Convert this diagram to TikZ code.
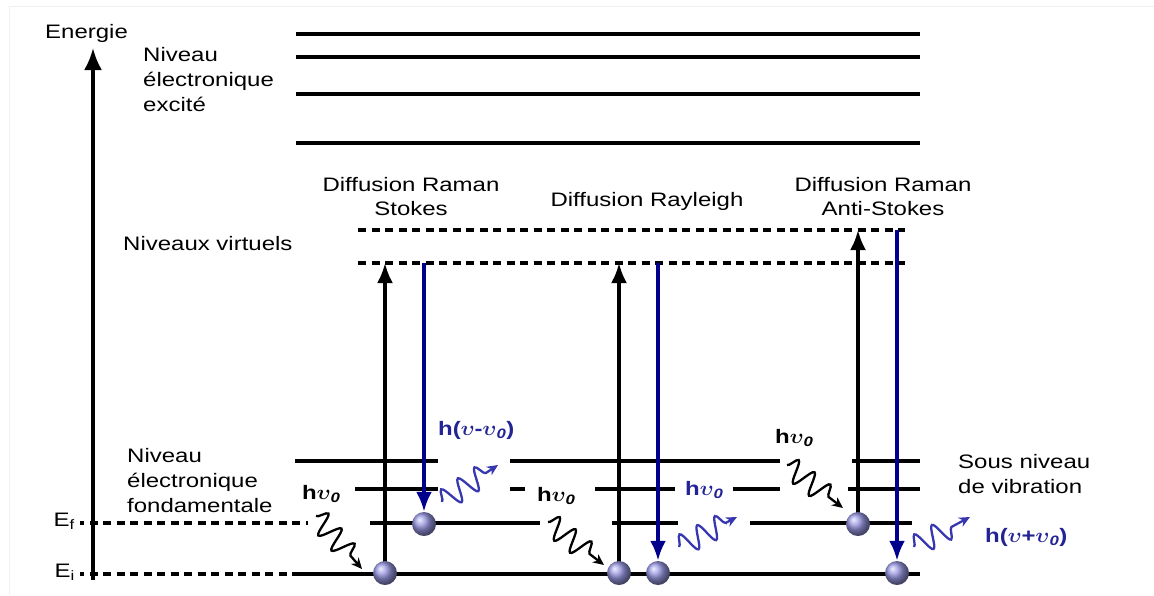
\documentclass[tikz,border=0pt]{standalone}
\usepackage{fontspec}
\setmainfont[FakeStretch=1.23]{Liberation Sans}
\usetikzlibrary{arrows.meta,decorations.pathmorphing}
\definecolor{navy}{RGB}{0,0,140}
\definecolor{bluetxt}{RGB}{35,35,150}
\definecolor{wavebl}{RGB}{55,55,175}
\definecolor{ballc}{RGB}{150,150,225}
\newcommand\hnuz{\textbf{h}{\boldmath$\upsilon$}\textsubscript{\textbf{\textit{0}}}}
\newcommand\hmin{\textbf{h(}{\boldmath$\upsilon$}\textbf{-}{\boldmath$\upsilon$}\textsubscript{\textbf{\textit{0}}}\textbf{)}}
\newcommand\hplu{\textbf{h(}{\boldmath$\upsilon$}\textbf{+}{\boldmath$\upsilon$}\textsubscript{\textbf{\textit{0}}}\textbf{)}}
\begin{document}
\begin{tikzpicture}[x=1pt,y=-1pt,
  txt/.style={inner sep=0pt, anchor=west, font=\fontsize{19.5}{25}\selectfont, align=left},
  ctxt/.style={inner sep=0pt, font=\fontsize{19.5}{24}\selectfont, align=center},
  lvl/.style={line width=3.4pt},
  dlvl/.style={line width=3.4pt, dash pattern=on 8pt off 5.5pt},
  axis/.style={line width=3.4pt, -{Latex[length=22pt,width=18pt]}},
  up/.style={line width=3.4pt, -{Latex[length=20pt,width=16pt]}},
  down/.style={line width=3.8pt, navy, -{Latex[length=20pt,width=16pt]}},
  ball/.style={circle, minimum size=24pt, inner sep=0pt, shading=ball, ball color=ballc},
  wave/.style={decorate, decoration={snake, amplitude=11pt, segment length=20pt, post length=12pt}, line width=2.3pt, -{Stealth[length=11pt,width=10pt]}},
  lab/.style={inner sep=0pt, font=\fontsize{19.5}{24}\selectfont}
]
\useasboundingbox (0,0) rectangle (1154,595);
\draw[gray!12, line width=1pt] (9,595) -- (9,6) -- (1154,6);

% energy axis
\coordinate (ax0) at (93,580);
\coordinate (ax1) at (93,48);
\draw[axis] (ax0) -- (ax1);
\node[txt] (energie) at (45,33) {Energie};

% excited electronic levels
\foreach \y in {34,57,94,143} \draw[lvl] (296,\y) -- (920,\y);
\node[txt] (exc) at (143,80) {Niveau\\électronique\\excité};

% virtual levels
\draw[dlvl] (358,230) -- (905,230);
\draw[dlvl] (358,263) -- (905,263);
\node[txt] (virt) at (123,244) {Niveaux virtuels};

\node[ctxt] (stokes) at (411,197) {Diffusion Raman\\Stokes};
\node[ctxt] (rayl) at (647,201) {Diffusion Rayleigh};
\node[ctxt] (astokes) at (883,197) {Diffusion Raman\\Anti-Stokes};

% ground state levels
\node[txt] (fond) at (127,481) {Niveau\\électronique\\fondamentale};
\node[txt] (vib) at (958,474) {Sous niveau\\de vibration};
\draw[dlvl, dash phase=4pt] (80,523) -- (308,523);
\draw[dlvl, dash phase=4pt] (80,574) -- (296,574);
\draw[lvl] (296,574) -- (920,574);
\draw[lvl] (295,461) -- (438,461) (510,461) -- (780,461) (852,461) -- (920,461);
\draw[lvl] (355,489) -- (438,489) (510,489) -- (525,489) (595,489) -- (675,489)
           (733,489) -- (780,489) (848,489) -- (920,489);
\draw[lvl] (370,523) -- (540,523) (612,523) -- (678,523) (750,523) -- (912,523);
\node[lab, anchor=east] (Ef) at (75,521) {E\textsubscript{f}};
\node[lab, anchor=east] (Ei) at (75,572) {E\textsubscript{i}};

% ball positions and virtual level targets
\coordinate (p1) at (385,573);
\coordinate (p2) at (424,524);
\coordinate (p3) at (619,573);
\coordinate (p4) at (658,573);
\coordinate (p5) at (858,524);
\coordinate (p6) at (897,573);
\coordinate (v1) at (385,263);
\coordinate (v2) at (424,263);
\coordinate (v3) at (619,263);
\coordinate (v4) at (658,263);
\coordinate (v5) at (858,230);
\coordinate (v6) at (897,230);

\draw[up] (p1) -- (v1);
\draw[up] (p3) -- (v3);
\draw[up] (p5) -- (v5);

\node[ball] (B1) at (p1) {};
\node[ball] (B2) at (p2) {};
\node[ball] (B3) at (p3) {};
\node[ball] (B4) at (p4) {};
\node[ball] (B5) at (p5) {};
\node[ball] (B6) at (p6) {};

\draw[down] (v2) -- (B2.north);
\draw[down] (v4) -- (B4.north);
\draw[down] (v6) -- (B6.north);

% photons
\coordinate (w1s) at (316,516); \coordinate (w1e) at (362,569);
\coordinate (w2s) at (442,502); \coordinate (w2e) at (498,465);
\coordinate (w3s) at (548,522); \coordinate (w3e) at (604,565);
\coordinate (w4s) at (679,547); \coordinate (w4e) at (737,517);
\coordinate (w5s) at (787,465); \coordinate (w5e) at (843,508);
\coordinate (w6s) at (914,547); \coordinate (w6e) at (970,517);
\draw[wave] (w1s) -- (w1e);
\draw[wave, wavebl] (w2s) -- (w2e);
\draw[wave] (w3s) -- (w3e);
\draw[wave, wavebl] (w4s) -- (w4e);
\draw[wave] (w5s) -- (w5e);
\draw[wave, wavebl] (w6s) -- (w6e);

\node[lab, anchor=west] (l1) at (302,494) {\hnuz};
\node[lab, anchor=west, bluetxt] (l2) at (438,430) {\hmin};
\node[lab, anchor=west] (l3) at (537,496) {\hnuz};
\node[lab, anchor=west, bluetxt] (l4) at (685,490) {\hnuz};
\node[lab, anchor=west] (l5) at (775,438) {\hnuz};
\node[lab, anchor=west, bluetxt] (l6) at (985,537) {\hplu};
\end{tikzpicture}
\end{document}
